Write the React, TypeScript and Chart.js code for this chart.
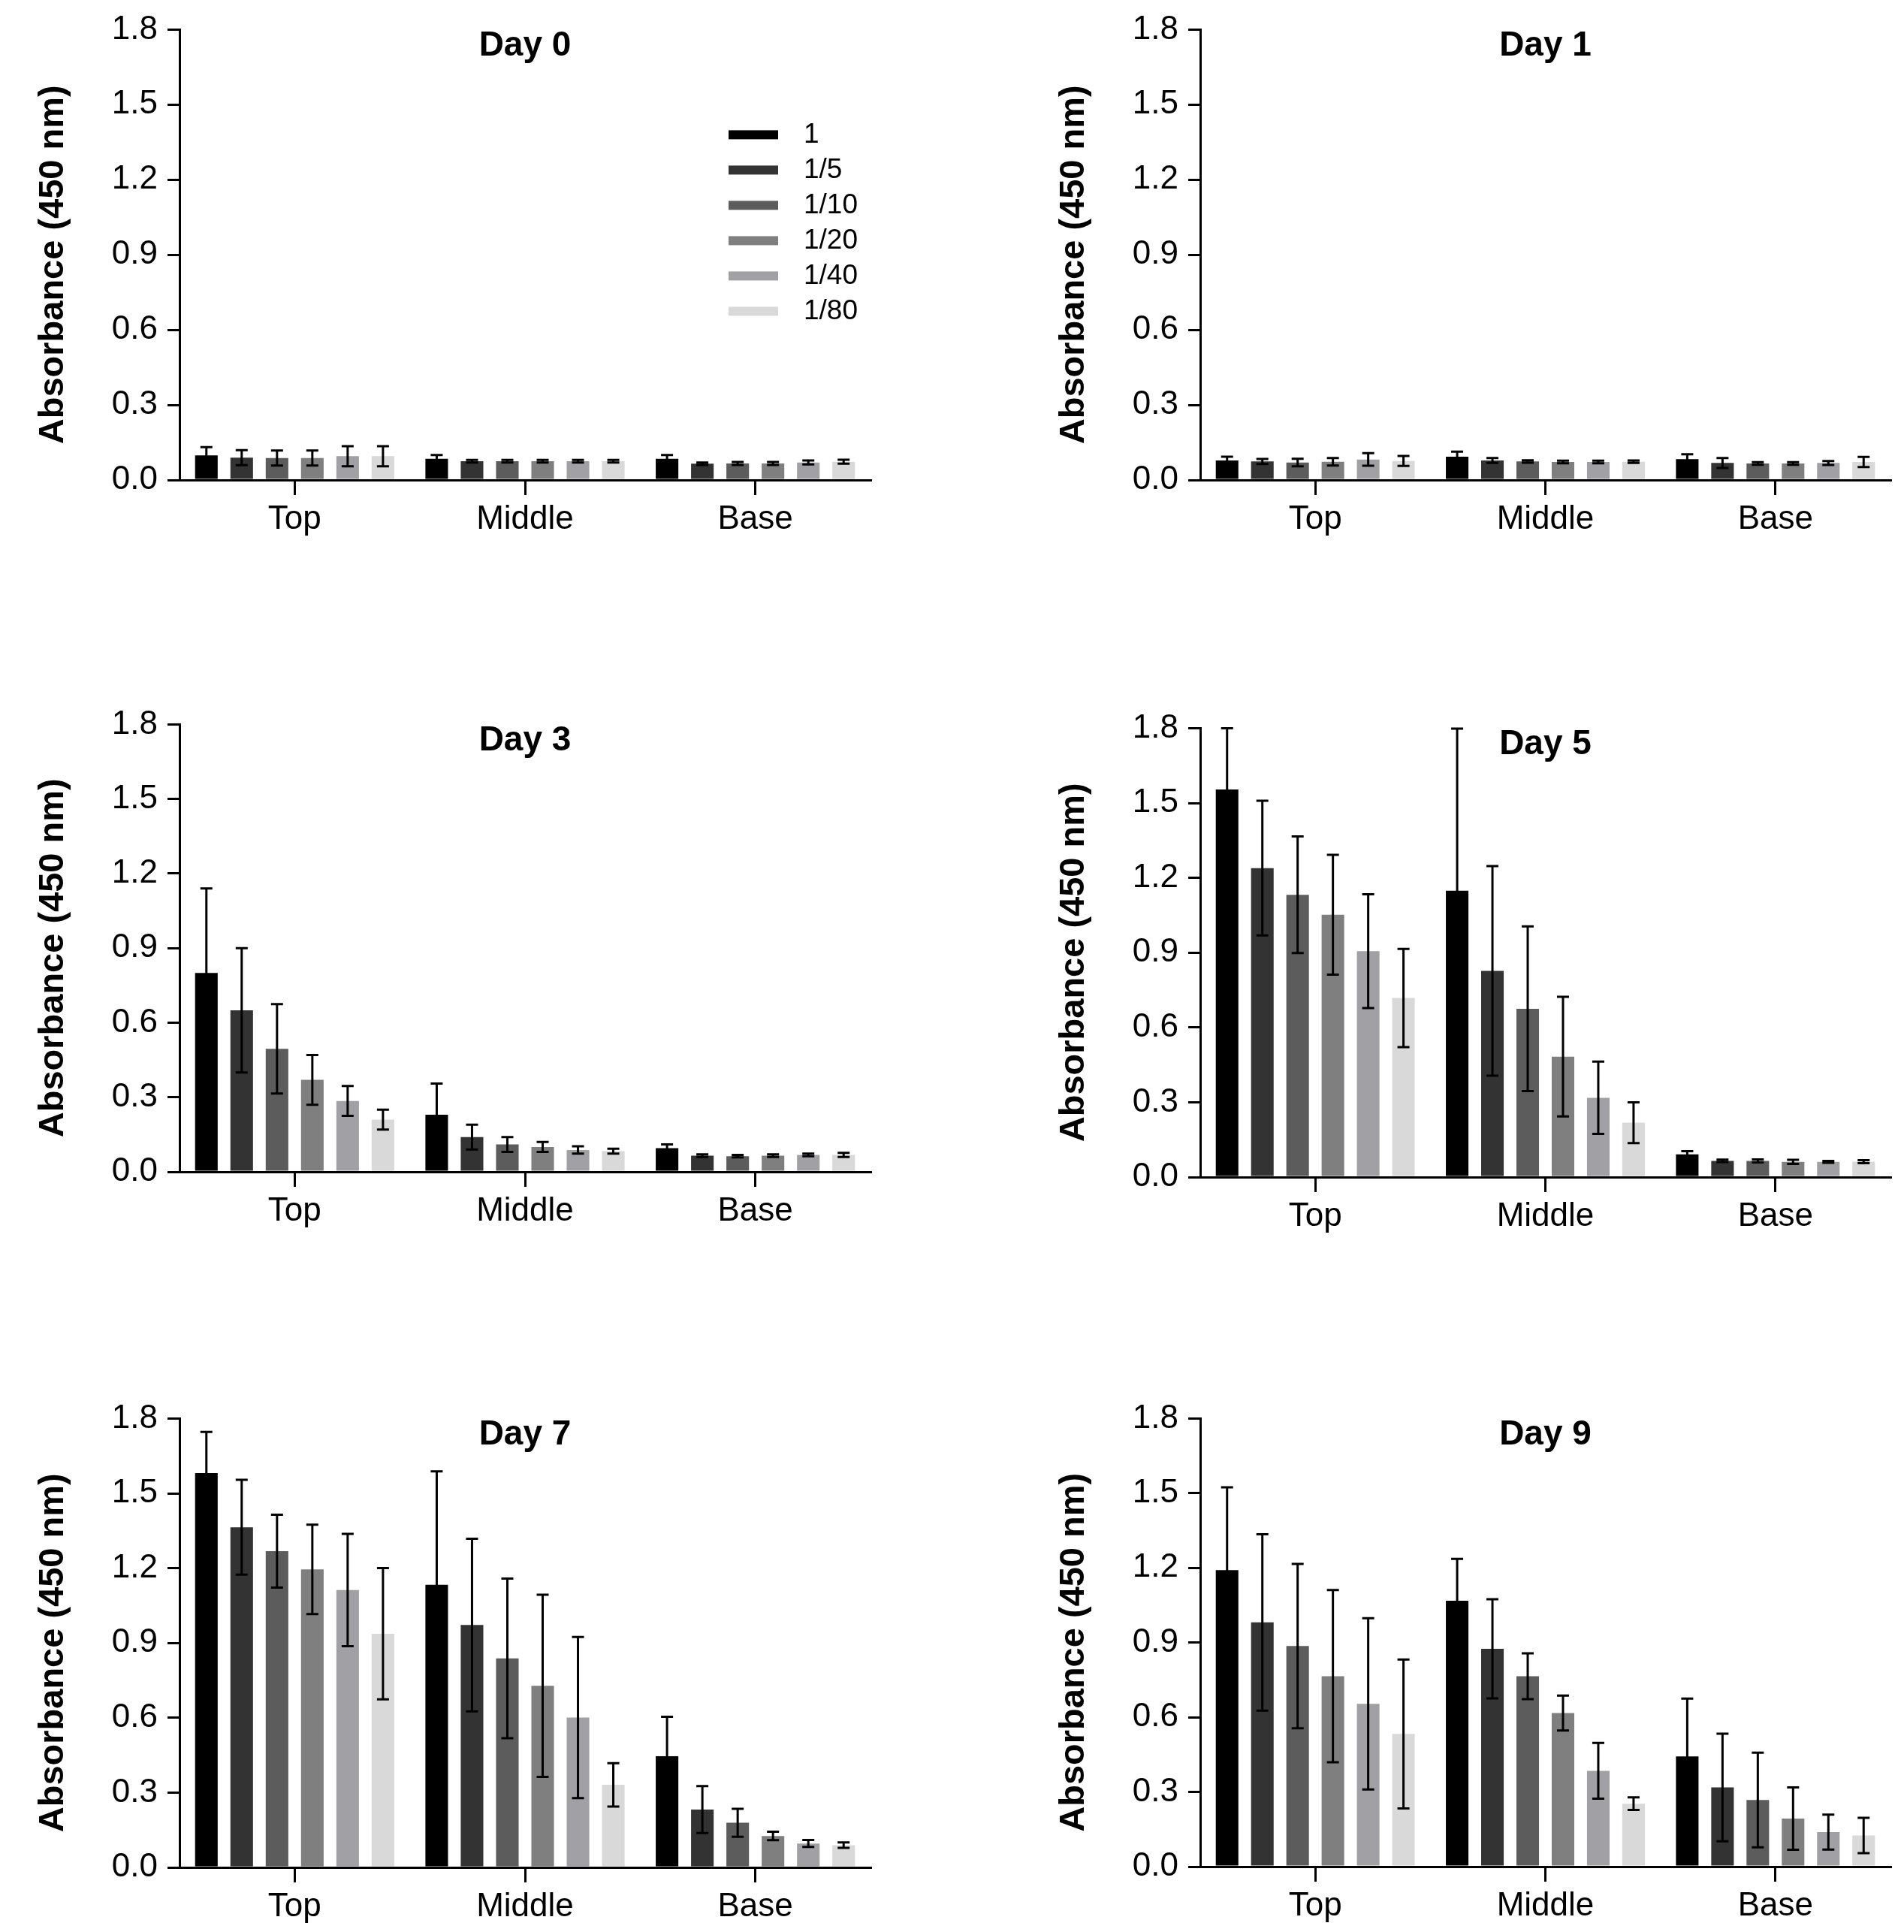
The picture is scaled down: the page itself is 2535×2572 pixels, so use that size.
import React, { useEffect, useRef } from 'react';
import { Chart, registerables } from 'chart.js';

Chart.register(...registerables);

const FONT = '"Liberation Sans", Arial, Helvetica, sans-serif';

// ---------- data ----------
const categories = ['Top', 'Middle', 'Base'];
const dilutions = ['1', '1/5', '1/10', '1/20', '1/40', '1/80'];
const yMin = 0;
const yMax = 1.8;
const yStep = 0.3;
const yTitle = 'Absorbance (450 nm)';

// means[dilution][category], errors[dilution][category]
const day0Means = [
  [0.098, 0.085, 0.085],
  [0.089, 0.075, 0.065],
  [0.088, 0.075, 0.066],
  [0.088, 0.075, 0.066],
  [0.095, 0.075, 0.07],
  [0.095, 0.075, 0.073],
];
const day0Errors = [
  [0.033, 0.015, 0.015],
  [0.03, 0.005, 0.005],
  [0.03, 0.005, 0.006],
  [0.03, 0.005, 0.006],
  [0.04, 0.005, 0.008],
  [0.04, 0.005, 0.008],
];

const day1Means = [
  [0.078, 0.093, 0.083],
  [0.074, 0.078, 0.068],
  [0.07, 0.074, 0.066],
  [0.073, 0.072, 0.066],
  [0.082, 0.072, 0.068],
  [0.076, 0.073, 0.072],
];
const day1Errors = [
  [0.015, 0.02, 0.02],
  [0.01, 0.01, 0.02],
  [0.015, 0.005, 0.005],
  [0.015, 0.005, 0.005],
  [0.025, 0.005, 0.008],
  [0.02, 0.005, 0.02],
];

const day3Means = [
  [0.8, 0.23, 0.095],
  [0.65, 0.14, 0.065],
  [0.495, 0.11, 0.063],
  [0.37, 0.1, 0.065],
  [0.285, 0.088, 0.068],
  [0.21, 0.083, 0.068],
];
const day3Errors = [
  [0.34, 0.125, 0.015],
  [0.25, 0.05, 0.005],
  [0.18, 0.03, 0.005],
  [0.1, 0.02, 0.005],
  [0.06, 0.015, 0.005],
  [0.04, 0.01, 0.008],
];

const day5Means = [
  [1.554, 1.148, 0.091],
  [1.239, 0.827, 0.065],
  [1.132, 0.675, 0.065],
  [1.052, 0.483, 0.061],
  [0.906, 0.318, 0.061],
  [0.718, 0.218, 0.062],
];
const day5Errors = [
  [0.246, 0.65, 0.013],
  [0.27, 0.42, 0.005],
  [0.234, 0.33, 0.006],
  [0.24, 0.24, 0.008],
  [0.228, 0.145, 0.004],
  [0.197, 0.082, 0.006],
];

const day7Means = [
  [1.581, 1.133, 0.446],
  [1.364, 0.972, 0.232],
  [1.268, 0.838, 0.179],
  [1.195, 0.728, 0.126],
  [1.112, 0.601, 0.096],
  [0.937, 0.331, 0.089],
];
const day7Errors = [
  [0.165, 0.455, 0.158],
  [0.19, 0.346, 0.094],
  [0.146, 0.32, 0.056],
  [0.179, 0.365, 0.017],
  [0.225, 0.323, 0.014],
  [0.263, 0.087, 0.011],
];

const day9Means = [
  [1.191, 1.068, 0.443],
  [0.981, 0.875, 0.318],
  [0.886, 0.765, 0.268],
  [0.765, 0.617, 0.193],
  [0.654, 0.385, 0.139],
  [0.533, 0.253, 0.125],
];
const day9Errors = [
  [0.333, 0.168, 0.232],
  [0.354, 0.199, 0.216],
  [0.33, 0.092, 0.19],
  [0.346, 0.07, 0.125],
  [0.344, 0.112, 0.07],
  [0.299, 0.025, 0.071],
];

// ---------- styles ----------
const seriesColors = ['#000000', '#333333', '#5c5c5c', '#7f7f7f', '#a1a1a5', '#d9d9d9'];

type PanelSpec = {
  title: string;
  means: number[][];
  errors: number[][];
  legend: boolean;
  cx: number; cw: number;
  L: number; T: number; R: number; B: number;
};

const Y_AXIS_W = 200;
const X_AXIS_H = 100;
const PAD_TOP = 33;
const PAD_BOTTOM = 6;

const panels: PanelSpec[] = [
  { title: 'Day 0', means: day0Means, errors: day0Errors, legend: true, cx: 0, cw: 1267, L: 239, T: 33, R: 1159, B: 639 },
  { title: 'Day 1', means: day1Means, errors: day1Errors, legend: false, cx: 1267, cw: 1268, L: 1598, T: 33, R: 2517, B: 639 },
  { title: 'Day 3', means: day3Means, errors: day3Errors, legend: false, cx: 0, cw: 1267, L: 239, T: 958, R: 1159, B: 1560 },
  { title: 'Day 5', means: day5Means, errors: day5Errors, legend: false, cx: 1267, cw: 1268, L: 1598, T: 963, R: 2517, B: 1567 },
  { title: 'Day 7', means: day7Means, errors: day7Errors, legend: false, cx: 0, cw: 1267, L: 239, T: 1882, R: 1159, B: 2486 },
  { title: 'Day 9', means: day9Means, errors: day9Errors, legend: false, cx: 1267, cw: 1268, L: 1598, T: 1882, R: 2517, B: 2485 },
];

const errorBarPlugin = {
  id: 'errorBars',
  afterDatasetsDraw(chart: any) {
    const { ctx } = chart;
    const yScale = chart.scales.y;
    chart.data.datasets.forEach((ds: any, i: number) => {
      const meta = chart.getDatasetMeta(i);
      meta.data.forEach((bar: any, j: number) => {
        const v = ds.data[j];
        const e = ds.errors[j];
        const x = bar.x;
        const yTop = yScale.getPixelForValue(v + e);
        const yBot = yScale.getPixelForValue(v - e);
        const cap = 8;
        ctx.save();
        ctx.strokeStyle = '#000';
        ctx.lineWidth = 3;
        ctx.lineCap = 'butt';
        ctx.beginPath();
        ctx.moveTo(x, yTop);
        ctx.lineTo(x, yBot);
        ctx.moveTo(x - cap, yTop);
        ctx.lineTo(x + cap, yTop);
        ctx.moveTo(x - cap, yBot);
        ctx.lineTo(x + cap, yBot);
        ctx.stroke();
        ctx.restore();
      });
    });
  },
};

const dayTitlePlugin = {
  id: 'dayTitle',
  afterDraw(chart: any, _args: any, opts: any) {
    const { ctx, chartArea } = chart;
    ctx.save();
    ctx.fillStyle = '#000';
    ctx.font = `bold 46px ${FONT}`;
    ctx.textAlign = 'center';
    ctx.textBaseline = 'alphabetic';
    ctx.fillText(opts.text, (chartArea.left + chartArea.right) / 2, chartArea.top + 35);
    ctx.restore();
  },
};

const insetLegendPlugin = {
  id: 'insetLegend',
  afterDraw(chart: any, _args: any, opts: any) {
    if (!opts.display) return;
    const { ctx, chartArea } = chart;
    const x0 = chartArea.left + 731;
    ctx.save();
    chart.data.datasets.forEach((ds: any, i: number) => {
      const yc = chartArea.top + 140 + i * 47;
      ctx.fillStyle = ds.backgroundColor;
      ctx.fillRect(x0, yc - 6, 66, 12);
      ctx.fillStyle = '#000';
      ctx.font = `37px ${FONT}`;
      ctx.textAlign = 'left';
      ctx.textBaseline = 'middle';
      ctx.fillText(ds.label, x0 + 100, yc);
    });
    ctx.restore();
  },
};

function Panel({ spec }: { spec: PanelSpec }) {
  const ref = useRef<HTMLCanvasElement | null>(null);
  const cy = spec.T - PAD_TOP;
  const ch = spec.B - cy + X_AXIS_H + PAD_BOTTOM;

  useEffect(() => {
    if (!ref.current) return;
    const datasets = dilutions.map((label, i) => ({
      label,
      data: spec.means[i],
      errors: spec.errors[i],
      backgroundColor: seriesColors[i],
      borderWidth: 0,
      categoryPercentage: 0.92,
      barPercentage: 0.64,
    }));
    const chart = new Chart(ref.current, {
      type: 'bar',
      data: { labels: categories, datasets: datasets as any },
      options: {
        responsive: false,
        animation: false,
        events: [],
        layout: {
          padding: {
            left: spec.L - spec.cx - Y_AXIS_W,
            right: spec.cx + spec.cw - spec.R,
            top: PAD_TOP,
            bottom: PAD_BOTTOM,
          },
        },
        plugins: {
          legend: { display: false },
          tooltip: { enabled: false },
          title: { display: false },
          dayTitle: { text: spec.title },
          insetLegend: { display: spec.legend },
        } as any,
        scales: {
          x: {
            type: 'category',
            offset: true,
            grid: {
              offset: false,
              drawOnChartArea: false,
              drawTicks: true,
              tickLength: 20,
              color: '#000',
              lineWidth: 3,
            },
            border: { display: true, color: '#000', width: 3 },
            ticks: {
              color: '#000',
              padding: 6,
              font: { family: FONT, size: 44 },
              maxRotation: 0,
            },
            afterFit: (scale: any) => {
              scale.height = X_AXIS_H;
            },
          },
          y: {
            type: 'linear',
            min: yMin,
            max: yMax,
            grid: {
              drawOnChartArea: false,
              drawTicks: true,
              tickLength: 16,
              color: '#000',
              lineWidth: 3,
            },
            border: { display: true, color: '#000', width: 3 },
            ticks: {
              stepSize: yStep,
              color: '#000',
              padding: 13,
              font: { family: FONT, size: 44 },
              callback: (v: any) => Number(v).toFixed(1),
            },
            title: {
              display: true,
              text: yTitle + '  ',
              color: '#000',
              font: { family: FONT, size: 47, weight: 'bold' },
              padding: { top: 4, bottom: 0 },
            },
            afterFit: (scale: any) => {
              scale.width = Y_AXIS_W;
            },
          },
        },
      },
      plugins: [errorBarPlugin, dayTitlePlugin, insetLegendPlugin],
    });
    return () => chart.destroy();
  }, [spec]);

  return (
    <canvas
      ref={ref}
      width={spec.cw}
      height={ch}
      style={{ position: 'absolute', left: spec.cx, top: cy, width: spec.cw, height: ch }}
    />
  );
}

export default function App() {
  return (
    <div
      style={{
        position: 'absolute',
        left: 0,
        top: 0,
        width: 2535,
        height: 2572,
        background: '#ffffff',
        overflow: 'hidden',
      }}
    >
      {panels.map((p) => (
        <Panel key={p.title} spec={p} />
      ))}
    </div>
  );
}
